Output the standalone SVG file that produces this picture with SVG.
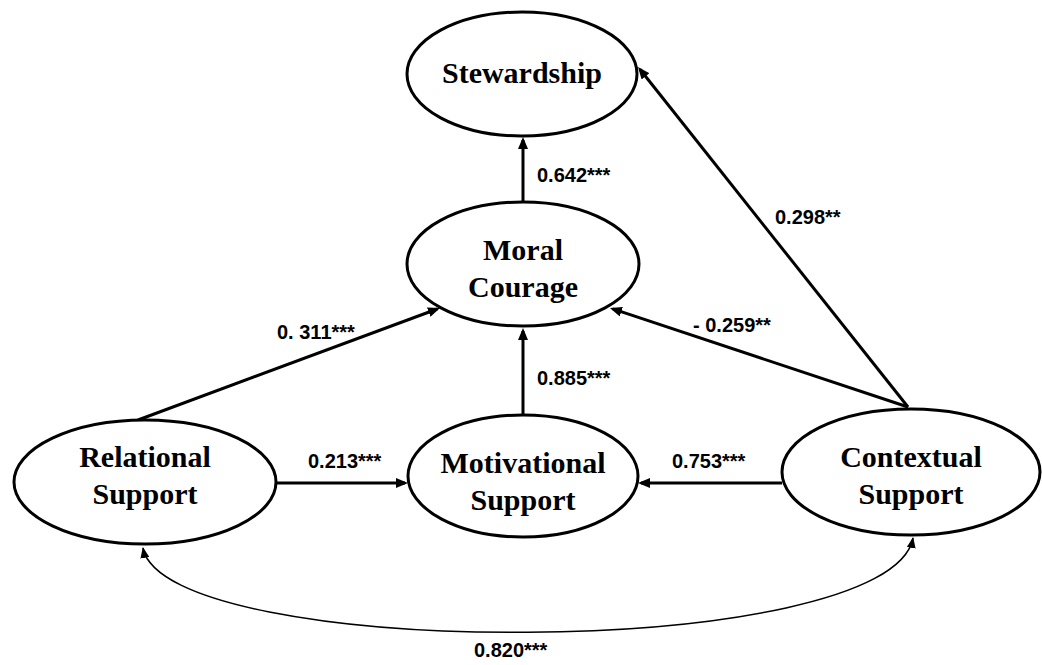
<svg xmlns="http://www.w3.org/2000/svg" width="1042" height="665" viewBox="0 0 1042 665">
<defs>
<style>
.node ellipse{fill:#fff;stroke:#000;stroke-width:3}
.node text{font-family:"Liberation Serif","Times New Roman",serif;font-weight:bold;font-size:30px;text-anchor:middle;fill:#000}
.conn line{stroke:#000;stroke-width:3;fill:none}
.conn path{stroke:#000;stroke-width:1.5;fill:none}
.lbl{font-family:"Liberation Sans",Arial,sans-serif;font-weight:bold;font-size:20px;fill:#000}
</style>
<marker id="ah" markerUnits="userSpaceOnUse" markerWidth="12" markerHeight="10" refX="9" refY="5" orient="auto">
<path d="M0,0 L12,5 L0,10 z" fill="#000"/>
</marker>
<marker id="sh" markerUnits="userSpaceOnUse" markerWidth="11" markerHeight="9" refX="10" refY="4.5" orient="auto-start-reverse">
<path d="M0,0 L11,4.5 L0,9 z" fill="#000"/>
</marker>
</defs>
<rect width="1042" height="665" fill="#fff"/>
<g id="connectors" class="conn">
<line x1="523" y1="202" x2="523" y2="140" marker-end="url(#ah)"/>
<line x1="523" y1="415" x2="523" y2="331" marker-end="url(#ah)"/>
<line x1="138" y1="420" x2="437.2" y2="309" marker-end="url(#ah)"/>
<line x1="908" y1="407" x2="612.8" y2="308.9" marker-end="url(#ah)"/>
<line x1="908" y1="407" x2="639.9" y2="69.3" marker-end="url(#ah)"/>
<line x1="276" y1="483" x2="405" y2="483" marker-end="url(#ah)"/>
<line x1="782" y1="483" x2="641" y2="483" marker-end="url(#ah)"/>
<path d="M143,548 C165,662 890,662 913,538" marker-start="url(#sh)" marker-end="url(#sh)"/>
</g>
<g id="labels">
<text class="lbl" x="537" y="182">0.642***</text>
<text class="lbl" x="775" y="224">0.298**</text>
<text class="lbl" x="277" y="339">0. 311***</text>
<text class="lbl" x="693" y="332">- 0.259**</text>
<text class="lbl" x="537" y="385">0.885***</text>
<text class="lbl" x="308" y="468">0.213***</text>
<text class="lbl" x="672" y="468">0.753***</text>
<text class="lbl" x="474" y="657">0.820***</text>
</g>
<g id="stewardship" class="node">
<ellipse cx="522" cy="74" rx="115" ry="62"/>
<text x="522" y="83">Stewardship</text>
</g>
<g id="moral-courage" class="node">
<ellipse cx="523" cy="264" rx="116" ry="62"/>
<text x="523" y="260">Moral</text>
<text x="523" y="297">Courage</text>
</g>
<g id="relational-support" class="node">
<ellipse cx="145" cy="482" rx="131" ry="62"/>
<text x="145" y="467">Relational</text>
<text x="145" y="504">Support</text>
</g>
<g id="motivational-support" class="node">
<ellipse cx="523" cy="476" rx="115" ry="61"/>
<text x="523" y="473">Motivational</text>
<text x="523" y="510">Support</text>
</g>
<g id="contextual-support" class="node">
<ellipse cx="911" cy="472" rx="129" ry="63"/>
<text x="911" y="467">Contextual</text>
<text x="911" y="504">Support</text>
</g>
</svg>
